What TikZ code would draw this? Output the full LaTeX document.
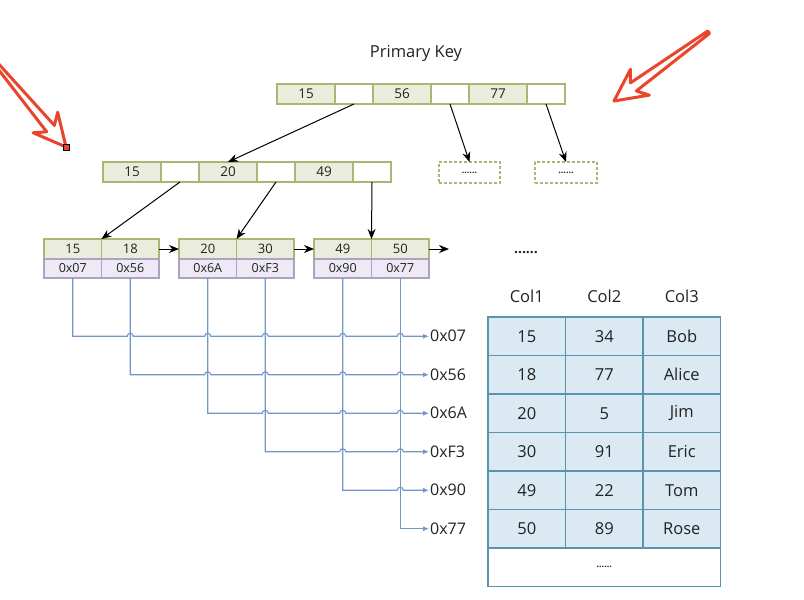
\documentclass[tikz,border=0pt]{standalone}
\usepackage{fontspec}
\setmainfont{Open Sans}
\usetikzlibrary{positioning,calc,arrows.meta}

\definecolor{keyfill}{HTML}{EAEDDC}
\definecolor{keyline}{HTML}{A9B676}
\definecolor{addrfill}{HTML}{EEEAF5}
\definecolor{addrline}{HTML}{ACA3C4}
\definecolor{rowfill}{HTML}{DAE9F2}
\definecolor{rowline}{HTML}{5A94AE}
\definecolor{idxline}{HTML}{7396C9}
\definecolor{pen}{HTML}{E8452C}
\definecolor{ink}{HTML}{222222}

\tikzset{
 treecell/.style={draw, line width=1.1pt, inner sep=0pt, outer sep=0pt, minimum height=20, text=ink},
 key/.style={treecell, draw=keyline, fill=keyfill, minimum width=58, font=\fontsize{13.5}{15}\selectfont},
 ptr/.style={treecell, draw=keyline, fill=white, minimum width=38},
 leafkey/.style={key, minimum width=57.5, font=\fontsize{13}{15}\selectfont},
 addr/.style={treecell, draw=addrline, fill=addrfill, minimum width=57.5, minimum height=19, font=\fontsize{12.5}{14}\selectfont},
 morebox/.style={treecell, draw=keyline, dash pattern=on 3pt off 2pt, line width=1.3pt, minimum height=21, font=\bfseries\fontsize{9}{9}\selectfont},
 link/.style={-{Stealth[length=10pt,width=8pt]}, line width=1pt},
 idx/.style={draw=idxline, line width=1.1pt, -{Latex[length=6pt,width=5pt]}},
 rowid/.style={anchor=west, inner sep=1pt, text=ink, font=\fontsize{16}{18}\selectfont},
 tabcell/.style={draw=rowline, fill=rowfill, line width=1.4pt, inner sep=0pt, outer sep=0pt,
   minimum width=77.5, minimum height=38.5, text=ink, font=\fontsize{16.5}{18}\selectfont},
 label/.style={text=ink, font=\fontsize{16.5}{18}\selectfont},
}

\begin{document}
\begin{tikzpicture}[x=1pt,y=-1pt]
\clip (0,0) rectangle (804,600);

% hollow pen arrow: tip x, tip y, angle, length
\newcommand{\penarrow}[4]{
 \begin{scope}[shift={(#1,#2)},rotate=#3]
  \draw[pen, line width=3pt, line join=round, fill=white]
   (0,0) -- (-32,16) -- (-24,5) -- (-#4,1.5) -- (-#4,-1.5) -- (-24,-5) -- (-32,-16) -- cycle;
 \end{scope}
}

\penarrow{66}{147}{-50}{115}
\draw[fill=pen] (63,144) rectangle (69,150);
\penarrow{614}{101}{216}{117}

\node[label] (title) at (416,53) {Primary Key};

% inner levels
\foreach \lvl/\x/\y/\ka/\kb/\kc in {root/277/84/15/56/77, mid/103/162/15/20/49} {
 \node[key, anchor=north west] (\lvl\ka) at (\x,\y) {\ka};
 \node[ptr, right=0pt of \lvl\ka] (\lvl p1) {};
 \node[key, right=0pt of \lvl p1] (\lvl\kb) {\kb};
 \node[ptr, right=0pt of \lvl\kb] (\lvl p2) {};
 \node[key, right=0pt of \lvl p2] (\lvl\kc) {\kc};
 \node[ptr, right=0pt of \lvl\kc] (\lvl p3) {};
}

\node[morebox, anchor=north west, minimum width=61] (more1) at (439,162) {......};
\node[morebox, anchor=north west, minimum width=62] (more2) at (535,162) {......};

% leaves
\foreach \x/\ka/\kb/\aa/\ab in {44/15/18/07/56, 179/20/30/6A/F3, 314/49/50/90/77} {
 \node[leafkey, anchor=north west] (k\ka) at (\x,239) {\ka};
 \node[leafkey, right=0pt of k\ka] (k\kb) {\kb};
 \node[addr, below=0pt of k\ka] (a\aa) {0x\aa};
 \node[addr, below=0pt of k\kb] (a\ab) {0x\ab};
}
\coordinate (tail) at (449,249);
\node[text=ink, font=\bfseries\fontsize{14}{14}\selectfont] (etc) at (526,253) {......};

\draw[link] (rootp1.south) -- (mid20.north);
\draw[link] (rootp2.south) -- (more1.north);
\draw[link] (rootp3.south) -- (more2.north);
\draw[link] (midp1.south) -- (k15.north east);
\draw[link] (midp2.south) -- (k20.north east);
\draw[link] (midp3.south) -- (k49.north east);
\draw[link] (k18.east) -- (k20.west);
\draw[link] (k30.east) -- (k49.west);
\draw[link] (k50.east) -- (tail);

% table rows
\foreach \a/\c/\d/\e [count=\i] in {07/15/34/Bob, 56/18/77/Alice, 6A/20/5/Jim, F3/30/91/Eric, 90/49/22/Tom, 77/50/89/Rose} {
 \pgfmathsetmacro{\y}{317+38.5*(\i-1)}
 \node[rowid] (r\a) at (429,\y+19.25) {0x\a};
 \node[tabcell, anchor=north west] (cell\i a) at (488,\y) {\c};
 \node[tabcell, right=0pt of cell\i a] (cell\i b) {\d};
 \node[tabcell, right=0pt of cell\i b] (cell\i c) {\e};
}
\node[tabcell, fill=white, minimum width=232.5, anchor=north west,
  font=\bfseries\fontsize{9}{9}\selectfont] (cellend) at (488,548) {......};
\path (cell1a.north) ++(0,-21) node[label] (head1) {Col1};
\path (cell1b.north) ++(0,-21) node[label] (head2) {Col2};
\path (cell1c.north) ++(0,-21) node[label] (head3) {Col3};

% row pointers
\foreach \s/\hops in {07/{56,6A,F3,90,77}, 56/{6A,F3,90,77}, 6A/{F3,90,77}, F3/{90,77}, 90/{77}}
 \draw[idx] (a\s.south) -- (a\s.south |- r\s.west)
  \foreach \h in \hops {-- ($(a\h.south |- r\s.west)+(-3,0)$) arc[start angle=180,end angle=0,radius=3pt]}
  -- (r\s.west);
\draw[idx] (a77.south) |- (r77.west);

\end{tikzpicture}
\end{document}
